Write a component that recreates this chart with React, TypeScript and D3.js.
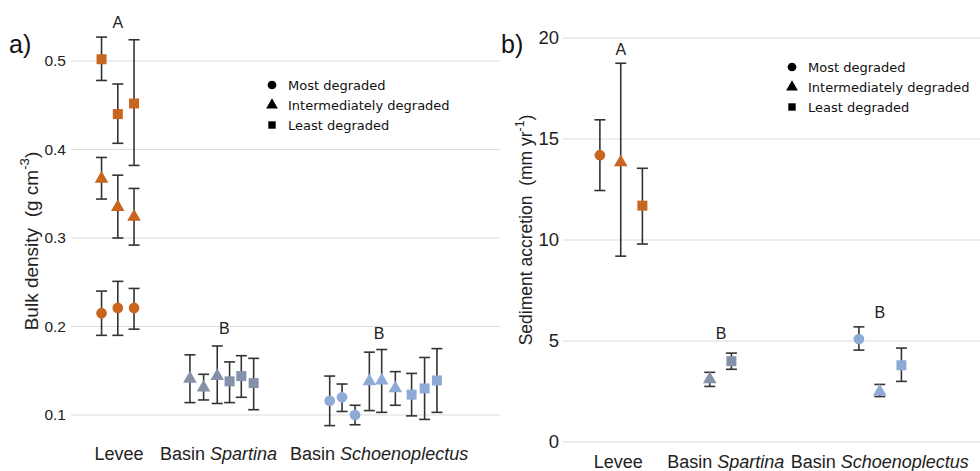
import React, { useEffect, useRef } from 'react';
import * as d3 from 'd3';

// habitats and the colour each one is drawn with
const habitats = ['Levee', 'Basin Spartina', 'Basin Schoenoplectus'];
const habitatColors = ['#c8651f', '#8491a8', '#8eaad6'];
const habitatLabelPos = [3.7, 11.35, 23.7];
const letterPos = [3.6, 11.8, 23.7];

const shapes = ['circle', 'triangle', 'square'];
const legendLabels = ['Most degraded', 'Intermediately degraded', 'Least degraded'];

// a) bulk density, one row per site: habitat index, shape index, x slot, mean, low, high
const bdHabitat = [0, 0, 0, 0, 0, 0, 0, 0, 0, 1, 1, 1, 1, 1, 1, 2, 2, 2, 2, 2, 2, 2, 2, 2];
const bdShape = [2, 2, 2, 1, 1, 1, 0, 0, 0, 1, 1, 1, 2, 2, 2, 0, 0, 0, 1, 1, 1, 2, 2, 2];
const bdSlot = [2.35, 3.6, 4.85, 2.35, 3.6, 4.85, 2.35, 3.6, 4.85,
  9.15, 10.2, 11.25, 12.2, 13.1, 14.05,
  19.9, 20.85, 21.85, 22.95, 23.9, 24.95, 26.2, 27.2, 28.15];
const bdMean = [0.502, 0.440, 0.452, 0.367, 0.335, 0.324, 0.215, 0.221, 0.221,
  0.141, 0.131, 0.144, 0.138, 0.144, 0.136,
  0.116, 0.120, 0.100, 0.138, 0.139, 0.130, 0.123, 0.130, 0.139];
const bdLow = [0.478, 0.407, 0.382, 0.344, 0.300, 0.292, 0.190, 0.190, 0.197,
  0.114, 0.117, 0.113, 0.114, 0.120, 0.106,
  0.088, 0.104, 0.089, 0.105, 0.103, 0.111, 0.099, 0.095, 0.103];
const bdHigh = [0.527, 0.474, 0.524, 0.391, 0.371, 0.356, 0.240, 0.251, 0.243,
  0.168, 0.146, 0.178, 0.160, 0.167, 0.164,
  0.144, 0.135, 0.111, 0.171, 0.174, 0.149, 0.147, 0.165, 0.175];
const bdTicks = [0.1, 0.2, 0.3, 0.4, 0.5];
const bdLetters = ['A', 'B', 'B'];
const bdLetterY = [0.537, 0.192, 0.186];

// b) sediment accretion
const saHabitat = [0, 0, 0, 1, 1, 2, 2, 2];
const saShape = [0, 1, 2, 1, 2, 0, 1, 2];
const saSlot = [2.3, 3.6, 4.95, 9.15, 10.5, 18.45, 19.75, 21.1];
const saMean = [14.2, 13.85, 11.7, 3.1, 4.0, 5.1, 2.5, 3.8];
const saLow = [12.45, 9.2, 9.8, 2.75, 3.6, 4.55, 2.25, 3.0];
const saHigh = [15.95, 18.75, 13.55, 3.45, 4.4, 5.7, 2.85, 4.65];
const saTicks = [0, 5, 10, 15, 20];
const saLabelPos = [3.45, 10.15, 19.75];
const saLetterPos = [3.6, 9.85, 19.75];
const saLetters = ['A', 'B', 'B'];
const saLetterY = [19.15, 5.12, 6.12];

const LABEL_FONT = '"Liberation Sans", Arial, sans-serif';
const LEGEND_FONT = '"DejaVu Sans", Verdana, sans-serif';

function drawPanel(g, opts) {
  const { x0, x1, y0, y1, yDomain, xDomain, ticks, tickFmt, hab, shp, slot, mean, lo, hi,
    labelPos, labelY, letterPos, letters, letterY, tickSize, tickRight } = opts;
  const x = d3.scaleLinear().domain(xDomain).range([x0, x1]);
  const y = d3.scaleLinear().domain(yDomain).range([y1, y0]);

  g.selectAll('.grid').data(ticks).enter().append('line')
    .attr('x1', x0).attr('x2', x1)
    .attr('y1', d => y(d)).attr('y2', d => y(d))
    .attr('stroke', '#dcdcdc').attr('stroke-width', 1.2);

  g.selectAll('.tick').data(ticks).enter().append('text')
    .attr('x', tickRight).attr('y', d => y(d))
    .attr('dy', '0.35em').attr('text-anchor', 'end')
    .attr('font-family', LABEL_FONT).attr('font-size', tickSize).attr('fill', '#222')
    .text(tickFmt);

  const idx = d3.range(mean.length);
  // error bars
  const eb = g.append('g').attr('stroke', '#333').attr('stroke-width', 1.6).attr('fill', 'none');
  idx.forEach(i => {
    const cx = x(slot[i]);
    eb.append('line').attr('x1', cx).attr('x2', cx).attr('y1', y(lo[i])).attr('y2', y(hi[i]));
    eb.append('line').attr('x1', cx - 5.5).attr('x2', cx + 5.5).attr('y1', y(lo[i])).attr('y2', y(lo[i]));
    eb.append('line').attr('x1', cx - 5.5).attr('x2', cx + 5.5).attr('y1', y(hi[i])).attr('y2', y(hi[i]));
  });

  const sym = {
    circle: d3.symbol().type(d3.symbolCircle).size(90),
    triangle: d3.symbol().type(d3.symbolTriangle).size(80),
    square: d3.symbol().type(d3.symbolSquare).size(100),
  };
  g.selectAll('.pt').data(idx).enter().append('path')
    .attr('d', i => sym[shapes[shp[i]]]())
    .attr('transform', i => `translate(${x(slot[i])},${y(mean[i])})`)
    .attr('fill', i => habitatColors[hab[i]]);

  // group labels on the x axis
  habitats.forEach((h, k) => {
    const t = g.append('text').attr('x', x(labelPos[k])).attr('y', labelY)
      .attr('text-anchor', 'middle').attr('font-family', LABEL_FONT)
      .attr('font-size', 18).attr('fill', '#222');
    const parts = h.split(' ');
    if (parts.length === 1) t.text(h);
    else {
      t.append('tspan').text(parts[0] + ' ');
      t.append('tspan').attr('font-style', 'italic').text(parts[1]);
    }
  });

  letters.forEach((l, k) => {
    g.append('text').attr('x', x(letterPos[k])).attr('y', y(letterY[k]))
      .attr('text-anchor', 'middle').attr('font-family', LABEL_FONT)
      .attr('font-size', 16).attr('fill', '#222').text(l);
  });
}

function drawLegend(g, lx, ly) {
  const sym = {
    circle: d3.symbol().type(d3.symbolCircle).size(60),
    triangle: d3.symbol().type(d3.symbolTriangle).size(60),
    square: d3.symbol().type(d3.symbolSquare).size(55),
  };
  legendLabels.forEach((lab, k) => {
    g.append('path').attr('d', sym[shapes[k]]())
      .attr('transform', `translate(${lx},${ly + k * 20})`).attr('fill', '#000');
    g.append('text').attr('x', lx + 16).attr('y', ly + k * 20).attr('dy', '0.35em')
      .attr('font-family', LEGEND_FONT).attr('font-size', 13).attr('fill', '#111').text(lab);
  });
}

function yTitle(g, cx, cy, size, main, sup) {
  const t = g.append('text').attr('transform', `translate(${cx},${cy}) rotate(-90)`)
    .attr('text-anchor', 'middle').attr('font-family', LABEL_FONT)
    .attr('font-size', size).attr('fill', '#222').style('white-space', 'pre');
  t.append('tspan').text(main);
  t.append('tspan').attr('dy', -size * 0.45).attr('font-size', size * 0.7).text(sup);
  t.append('tspan').attr('dy', size * 0.45).text(')');
}

export default function App() {
  const ref = useRef(null);

  useEffect(() => {
    const svg = d3.select(ref.current);
    svg.selectAll('*').remove();

    const a = svg.append('g');
    drawPanel(a, {
      x0: 71, x1: 500, y0: 61, y1: 415, yDomain: [0.1, 0.5], xDomain: [0, 33],
      ticks: bdTicks, tickFmt: d => d3.format('.1f')(d), hab: bdHabitat, shp: bdShape,
      slot: bdSlot, mean: bdMean, lo: bdLow, hi: bdHigh, labelPos: habitatLabelPos, labelY: 460,
      letterPos, letters: bdLetters, letterY: bdLetterY, tickSize: 15.5, tickRight: 66,
    });
    drawLegend(a, 272, 85);
    a.append('text').attr('x', 9).attr('y', 53).attr('font-family', LABEL_FONT)
      .attr('font-size', 25).attr('fill', '#111').text('a)');
    yTitle(a, 38, 241, 19, 'Bulk density  (g cm', '-3');

    const b = svg.append('g');
    drawPanel(b, {
      x0: 563, x1: 980, y0: 38, y1: 442, yDomain: [0, 20], xDomain: [0, 26],
      ticks: saTicks, tickFmt: d => String(d), hab: saHabitat, shp: saShape,
      slot: saSlot, mean: saMean, lo: saLow, hi: saHigh, labelPos: saLabelPos, labelY: 468,
      letterPos: saLetterPos, letters: saLetters, letterY: saLetterY, tickSize: 18.5, tickRight: 559,
    });
    drawLegend(b, 792, 67);
    b.append('text').attr('x', 501).attr('y', 53).attr('font-family', LABEL_FONT)
      .attr('font-size', 25).attr('fill', '#111').text('b)');
    yTitle(b, 532, 230, 17.5, 'Sediment accretion  (mm yr', '-1');
  }, []);

  return (
    <svg ref={ref} width={980} height={471}
      style={{ position: 'absolute', left: 0, top: 0, background: '#fff' }} />
  );
}
